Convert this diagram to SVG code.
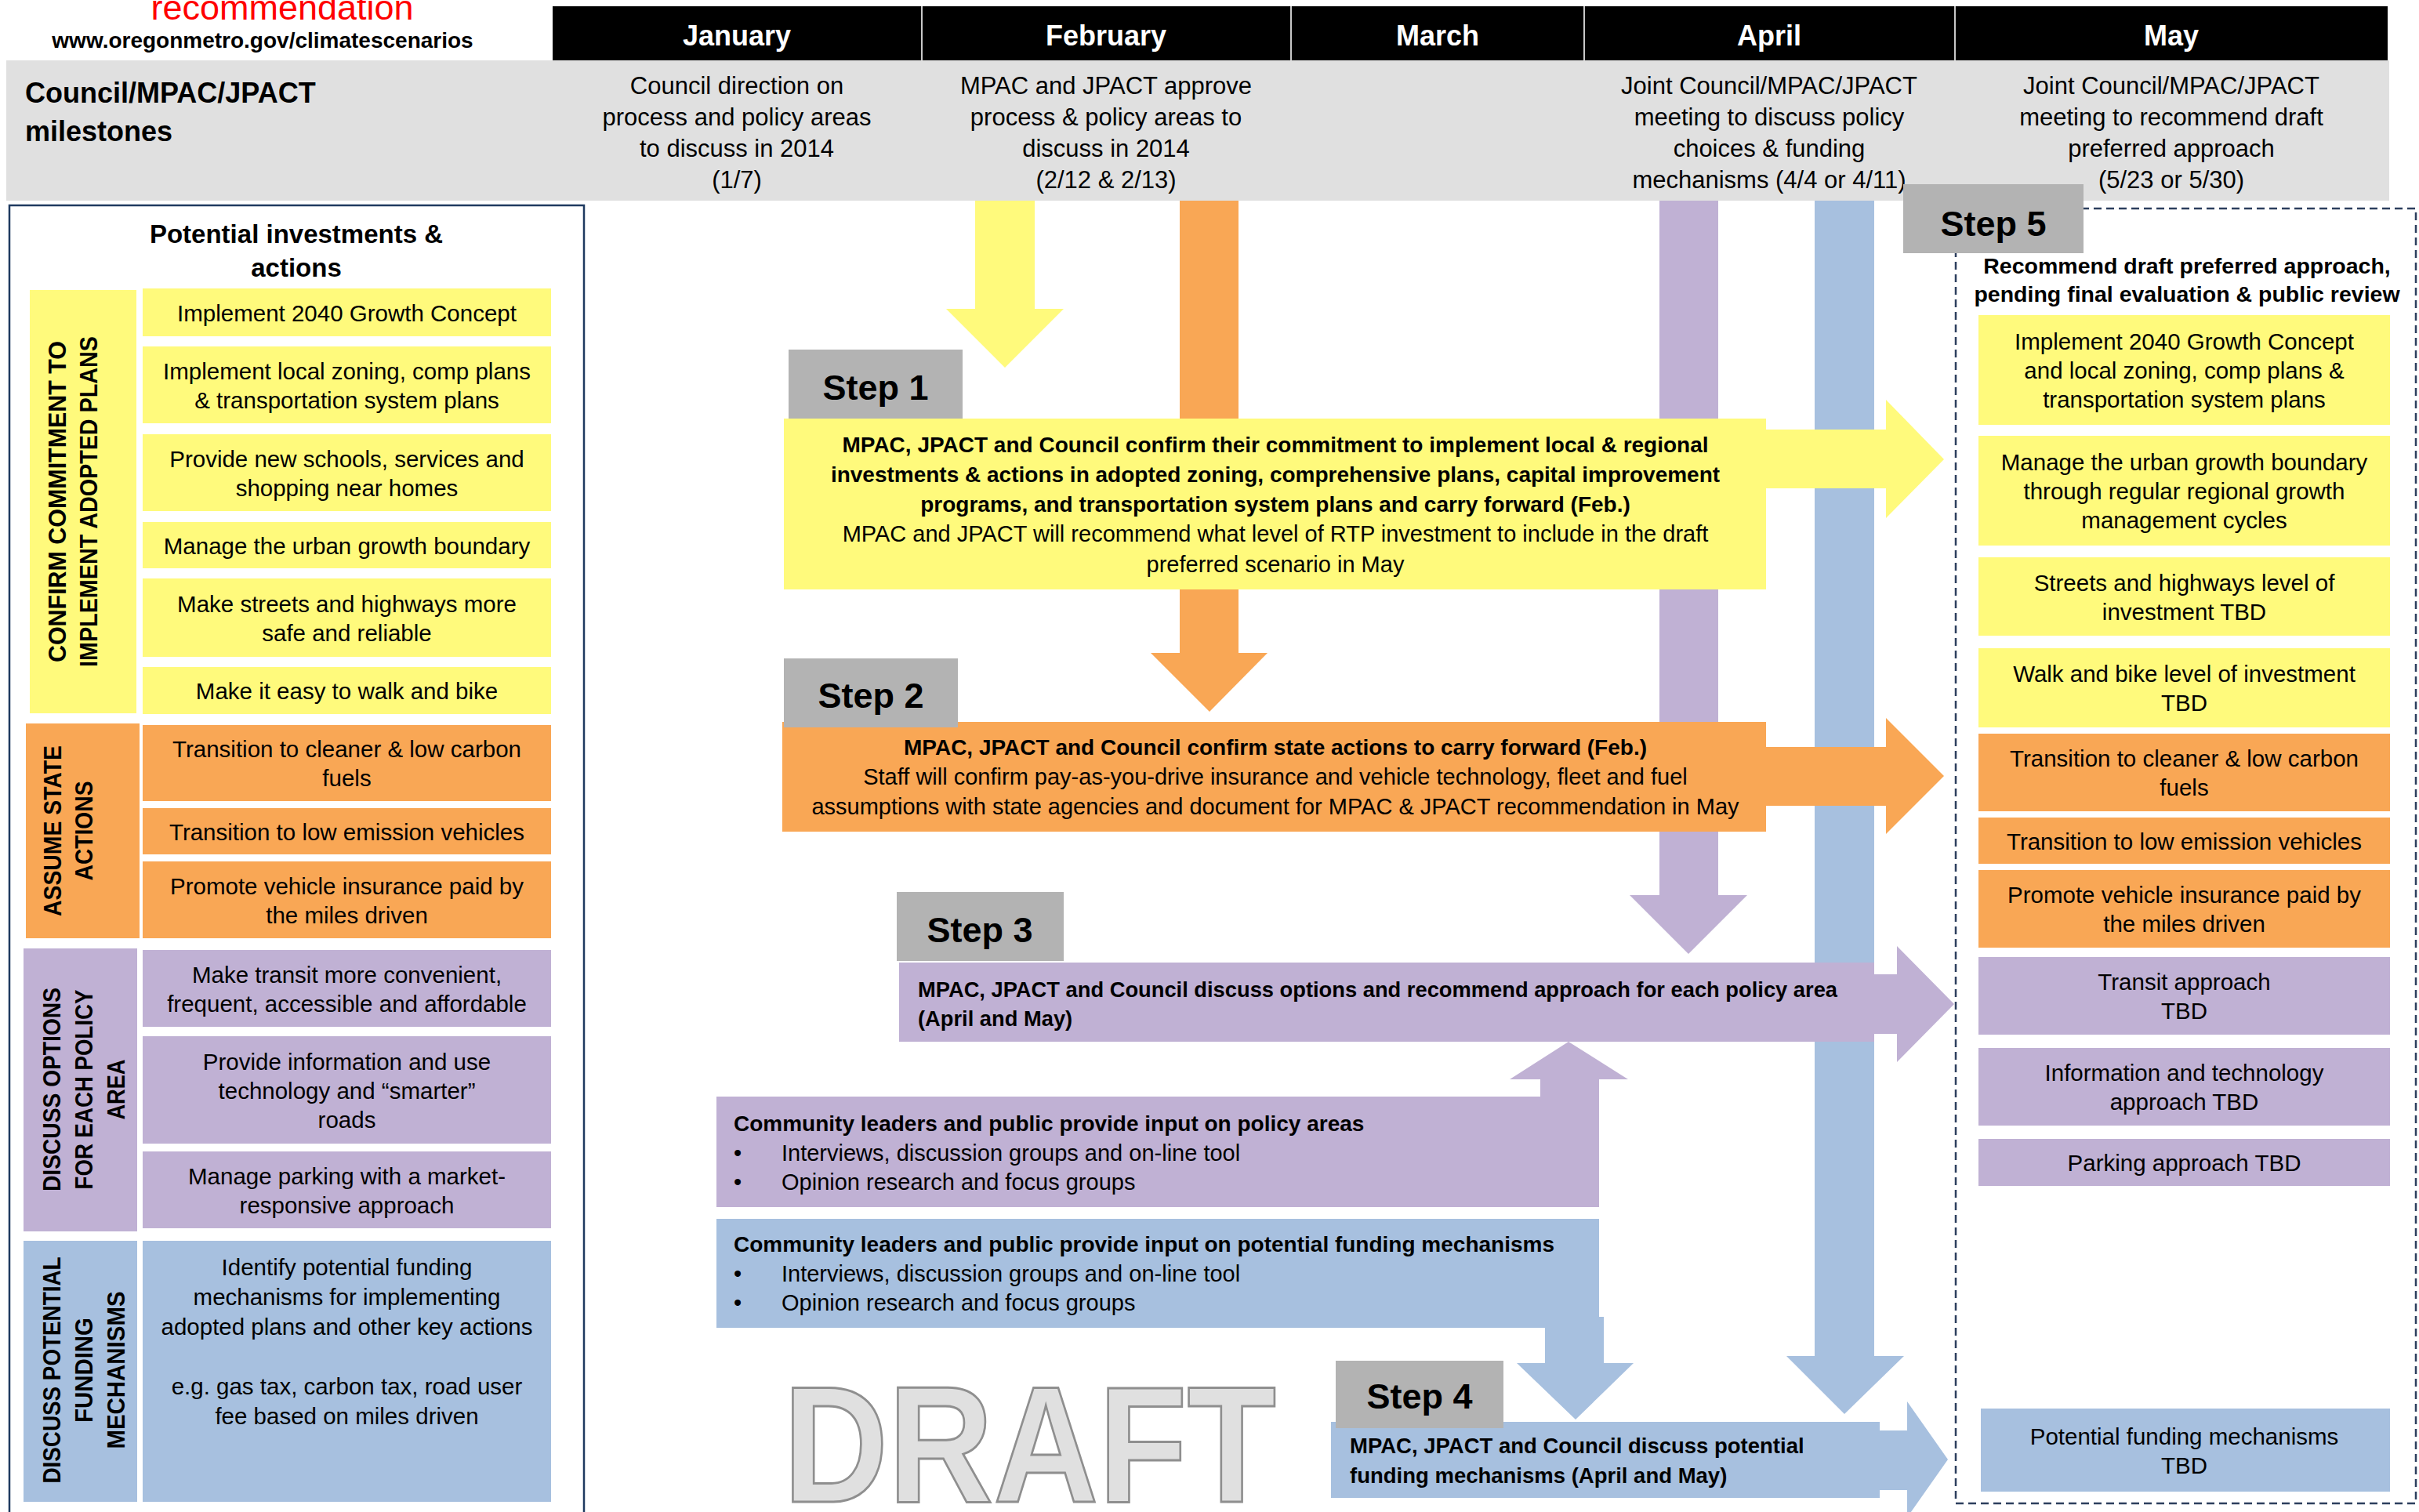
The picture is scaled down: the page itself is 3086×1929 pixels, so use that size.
<svg xmlns="http://www.w3.org/2000/svg" width="3086" height="1929" viewBox="0 0 3086 1929">
<style>
text{font-family:"Liberation Sans",Arial,sans-serif;fill:#000}
.mon{font-size:36px;font-weight:bold;fill:#fff;text-anchor:middle}
.ms{font-size:31px;text-anchor:middle}
.it{font-size:29.5px;text-anchor:middle}
.cat{font-size:31px;font-weight:bold;text-anchor:middle}
.st{font-size:45px;font-weight:bold;text-anchor:middle}
.sb{font-size:28px;font-weight:bold}
.sr{font-size:29px}
.hd{font-size:28.5px;font-weight:bold;text-anchor:middle}
.mid{text-anchor:middle}
.y{fill:#fffa7c}
.o{fill:#f9a755}
.p{fill:#c0b1d4}
.bl{fill:#a7c0df}
.g{fill:#b3b3b3}
.sep{stroke:#c8c8c8;stroke-width:2}
</style>
<rect x="0" y="0" width="3086" height="1929" fill="#fff"/>

<g id="title">
<text x="360" y="25" font-size="45" text-anchor="middle" style="fill:#ff0000">recommendation</text>
<text x="335" y="61" font-size="28" font-weight="bold" text-anchor="middle">www.oregonmetro.gov/climatescenarios</text>
</g>

<g id="months">
<rect x="705" y="8" width="2341" height="69" fill="#000"/>
<line class="sep" x1="1176" y1="8" x2="1176" y2="77"/>
<line class="sep" x1="1647" y1="8" x2="1647" y2="77"/>
<line class="sep" x1="2021" y1="8" x2="2021" y2="77"/>
<line class="sep" x1="2494" y1="8" x2="2494" y2="77"/>
<text class="mon" x="940" y="58">January</text>
<text class="mon" x="1411" y="58">February</text>
<text class="mon" x="1834" y="58">March</text>
<text class="mon" x="2257" y="58">April</text>
<text class="mon" x="2770" y="58">May</text>
</g>

<g id="milestones">
<rect x="8" y="77" width="3040" height="179" fill="#e0e0e0"/>
<text x="32" y="131" font-size="36" font-weight="bold">Council/MPAC/JPACT</text>
<text x="32" y="180" font-size="36" font-weight="bold">milestones</text>
<text class="ms"><tspan x="940" y="120">Council direction on</tspan><tspan x="940" y="160">process and policy areas</tspan><tspan x="940" y="200">to discuss in 2014</tspan><tspan x="940" y="240">(1/7)</tspan></text>
<text class="ms"><tspan x="1411" y="120">MPAC and JPACT approve</tspan><tspan x="1411" y="160">process &amp; policy areas to</tspan><tspan x="1411" y="200">discuss in 2014</tspan><tspan x="1411" y="240">(2/12 &amp; 2/13)</tspan></text>
<text class="ms"><tspan x="2257" y="120">Joint Council/MPAC/JPACT</tspan><tspan x="2257" y="160">meeting to discuss policy</tspan><tspan x="2257" y="200">choices &amp; funding</tspan><tspan x="2257" y="240">mechanisms (4/4 or 4/11)</tspan></text>
<text class="ms"><tspan x="2770" y="120">Joint Council/MPAC/JPACT</tspan><tspan x="2770" y="160">meeting to recommend draft</tspan><tspan x="2770" y="200">preferred approach</tspan><tspan x="2770" y="240">(5/23 or 5/30)</tspan></text>
</g>

<g id="left-panel">
<rect x="12" y="262" width="733" height="1700" fill="none" stroke="#1f3a60" stroke-width="2.5"/>
<text x="378" y="310" font-size="33" font-weight="bold" text-anchor="middle">Potential investments &amp;</text>
<text x="378" y="353" font-size="33" font-weight="bold" text-anchor="middle">actions</text>
</g>

<g id="cat-confirm">
<rect class="y" x="38" y="370" width="136" height="540"/>
<text class="cat" transform="translate(84,640) rotate(-90)" textLength="410" lengthAdjust="spacingAndGlyphs">CONFIRM COMMITMENT TO</text>
<text class="cat" transform="translate(124,640) rotate(-90)" textLength="422" lengthAdjust="spacingAndGlyphs">IMPLEMENT ADOPTED PLANS</text>
</g>
<g id="item-l1"><rect class="y" x="182" y="368" width="521" height="61"/><text class="it" x="442.5" y="409.5">Implement 2040 Growth Concept</text></g>
<g id="item-l2"><rect class="y" x="182" y="442" width="521" height="98"/><text class="it"><tspan x="442.5" y="483.5">Implement local zoning, comp plans</tspan><tspan x="442.5" y="520.5">&amp; transportation system plans</tspan></text></g>
<g id="item-l3"><rect class="y" x="182" y="554" width="521" height="98"/><text class="it"><tspan x="442.5" y="595.5">Provide new schools, services and</tspan><tspan x="442.5" y="632.5">shopping near homes</tspan></text></g>
<g id="item-l4"><rect class="y" x="182" y="666" width="521" height="59"/><text class="it" x="442.5" y="706.5">Manage the urban growth boundary</text></g>
<g id="item-l5"><rect class="y" x="182" y="738" width="521" height="100"/><text class="it"><tspan x="442.5" y="780.5">Make streets and highways more</tspan><tspan x="442.5" y="817.5">safe and reliable</tspan></text></g>
<g id="item-l6"><rect class="y" x="182" y="851" width="521" height="60"/><text class="it" x="442.5" y="892">Make it easy to walk and bike</text></g>

<g id="cat-state">
<rect class="o" x="33" y="923" width="145" height="274"/>
<text class="cat" transform="translate(78,1060) rotate(-90)" textLength="218" lengthAdjust="spacingAndGlyphs">ASSUME STATE</text>
<text class="cat" transform="translate(118,1060) rotate(-90)" textLength="127" lengthAdjust="spacingAndGlyphs">ACTIONS</text>
</g>
<g id="item-l7"><rect class="o" x="182" y="925" width="521" height="97"/><text class="it"><tspan x="442.5" y="966">Transition to cleaner &amp; low carbon</tspan><tspan x="442.5" y="1003">fuels</tspan></text></g>
<g id="item-l8"><rect class="o" x="182" y="1031" width="521" height="59"/><text class="it" x="442.5" y="1071.5">Transition to low emission vehicles</text></g>
<g id="item-l9"><rect class="o" x="182" y="1099" width="521" height="98"/><text class="it"><tspan x="442.5" y="1140.5">Promote vehicle insurance paid by</tspan><tspan x="442.5" y="1177.5">the miles driven</tspan></text></g>

<g id="cat-options">
<rect class="p" x="30" y="1210" width="145" height="361"/>
<text class="cat" transform="translate(77,1390) rotate(-90)" textLength="260" lengthAdjust="spacingAndGlyphs">DISCUSS OPTIONS</text>
<text class="cat" transform="translate(118,1390) rotate(-90)" textLength="255" lengthAdjust="spacingAndGlyphs">FOR EACH POLICY</text>
<text class="cat" transform="translate(159,1390) rotate(-90)" textLength="77" lengthAdjust="spacingAndGlyphs">AREA</text>
</g>
<g id="item-l10"><rect class="p" x="182" y="1212" width="521" height="98"/><text class="it"><tspan x="442.5" y="1253.5">Make transit more convenient,</tspan><tspan x="442.5" y="1290.5">frequent, accessible and affordable</tspan></text></g>
<g id="item-l11"><rect class="p" x="182" y="1322" width="521" height="137"/><text class="it"><tspan x="442.5" y="1364.5">Provide information and use</tspan><tspan x="442.5" y="1401.5">technology and “smarter”</tspan><tspan x="442.5" y="1438.5">roads</tspan></text></g>
<g id="item-l12"><rect class="p" x="182" y="1469" width="521" height="98"/><text class="it"><tspan x="442.5" y="1510.5">Manage parking with a market-</tspan><tspan x="442.5" y="1547.5">responsive approach</tspan></text></g>

<g id="cat-funding">
<rect class="bl" x="30" y="1583" width="145" height="333"/>
<text class="cat" transform="translate(77,1748) rotate(-90)" textLength="289" lengthAdjust="spacingAndGlyphs">DISCUSS POTENTIAL</text>
<text class="cat" transform="translate(118,1748) rotate(-90)" textLength="134" lengthAdjust="spacingAndGlyphs">FUNDING</text>
<text class="cat" transform="translate(159,1748) rotate(-90)" textLength="201" lengthAdjust="spacingAndGlyphs">MECHANISMS</text>
</g>
<g id="item-l13"><rect class="bl" x="182" y="1583" width="521" height="333"/><text class="it"><tspan x="442.5" y="1627">Identify potential funding</tspan><tspan x="442.5" y="1665">mechanisms for implementing</tspan><tspan x="442.5" y="1703">adopted plans and other key actions</tspan><tspan x="442.5" y="1779">e.g. gas tax, carbon tax, road user</tspan><tspan x="442.5" y="1817">fee based on miles driven</tspan></text></g>

<text x="999" y="1916" font-size="211" font-weight="bold" textLength="629" lengthAdjust="spacingAndGlyphs" style="fill:#e0e0e0;stroke:#8f8f8f;stroke-width:3">DRAFT</text>

<g id="connectors">
<polygon class="y" points="1244,256 1320,256 1320,394 1357,394 1282,469 1207,394 1244,394"/>
<polygon class="o" points="1505,256 1580,256 1580,833 1617,833 1543,908 1468,833 1505,833"/>
<polygon class="p" points="2117,256 2192,256 2192,1142 2229,1142 2154,1217 2079,1142 2117,1142"/>
<polygon class="bl" points="2315,256 2391,256 2391,1730 2429,1730 2353,1804 2279,1730 2315,1730"/>
<polygon class="y" points="2240,548 2406,548 2406,510 2480,586 2406,661 2406,623 2240,623"/>
<polygon class="o" points="2240,953 2406,953 2406,916 2480,990 2406,1064 2406,1028 2240,1028"/>
<polygon class="p" points="2380,1243 2420,1243 2420,1207 2493,1281 2420,1355 2420,1319 2380,1319"/>
<polygon class="bl" points="2390,1825 2433,1825 2433,1788 2485,1862 2433,1936 2433,1901 2390,1901"/>
<polygon class="p" points="1965,1410 1965,1377 1926,1377 2001,1329 2077,1377 2040,1377 2040,1410"/>
<polygon class="bl" points="1971,1680 2046,1680 2046,1739 2084,1739 2010,1811 1935,1739 1971,1739"/>
</g>

<g id="step1">
<rect class="y" x="1000" y="534" width="1253" height="218"/>
<text class="sb mid"><tspan x="1627" y="577">MPAC, JPACT and Council confirm their commitment to implement local &amp; regional</tspan><tspan x="1627" y="615">investments &amp; actions in adopted zoning, comprehensive plans, capital improvement</tspan><tspan x="1627" y="653">programs, and transportation system plans and carry forward (Feb.)</tspan></text>
<text class="sr mid"><tspan x="1627" y="691">MPAC and JPACT will recommend what level of RTP investment to include in the draft</tspan><tspan x="1627" y="730">preferred scenario in May</tspan></text>
<rect class="g" x="1006" y="446" width="222" height="88"/>
<text class="st" x="1117" y="510">Step 1</text>
</g>

<g id="step2">
<rect class="o" x="998" y="921" width="1255" height="140"/>
<text class="sb mid" x="1627" y="963">MPAC, JPACT and Council confirm state actions to carry forward (Feb.)</text>
<text class="sr mid"><tspan x="1627" y="1001">Staff will confirm pay-as-you-drive insurance and vehicle technology, fleet and fuel</tspan><tspan x="1627" y="1039">assumptions with state agencies and document for MPAC &amp; JPACT recommendation in May</tspan></text>
<rect class="g" x="1000" y="840" width="222" height="88"/>
<text class="st" x="1111" y="903">Step 2</text>
</g>

<g id="step3">
<rect class="p" x="1147" y="1228" width="1244" height="101"/>
<text class="sb" style="font-size:27.3px"><tspan x="1171" y="1272">MPAC, JPACT and Council discuss options and recommend approach for each policy area</tspan><tspan x="1171" y="1309">(April and May)</tspan></text>
<rect class="g" x="1144" y="1138" width="213" height="88"/>
<text class="st" x="1250" y="1202">Step 3</text>
</g>

<g id="input-policy">
<rect class="p" x="914" y="1399" width="1126" height="141"/>
<text class="sb" x="936" y="1443">Community leaders and public provide input on policy areas</text>
<text class="sr"><tspan x="936" y="1481">•</tspan><tspan x="997" y="1481">Interviews, discussion groups and on-line tool</tspan><tspan x="936" y="1518">•</tspan><tspan x="997" y="1518">Opinion research and focus groups</tspan></text>
</g>

<g id="input-funding">
<rect class="bl" x="914" y="1555" width="1126" height="139"/>
<text class="sb" x="936" y="1597">Community leaders and public provide input on potential funding mechanisms</text>
<text class="sr"><tspan x="936" y="1635">•</tspan><tspan x="997" y="1635">Interviews, discussion groups and on-line tool</tspan><tspan x="936" y="1672">•</tspan><tspan x="997" y="1672">Opinion research and focus groups</tspan></text>
</g>

<g id="step4">
<rect class="bl" x="1698" y="1814" width="700" height="97"/>
<text class="sb" style="font-size:27.5px"><tspan x="1722" y="1854">MPAC, JPACT and Council discuss potential</tspan><tspan x="1722" y="1892">funding mechanisms (April and May)</tspan></text>
<rect class="g" x="1704" y="1736" width="214" height="86"/>
<text class="st" x="1811" y="1797">Step 4</text>
</g>

<g id="step5">
<rect x="2495" y="266" width="587" height="1652" fill="none" stroke="#2d3f5e" stroke-width="2.5" stroke-dasharray="10 6"/>
<rect class="g" x="2428" y="235" width="230" height="88"/>
<text class="st" x="2543" y="301">Step 5</text>
<text class="hd" x="2790" y="349">Recommend draft preferred approach,</text>
<text class="hd" x="2790" y="385">pending final evaluation &amp; public review</text>
</g>
<g id="item-r1"><rect class="y" x="2524" y="402" width="525" height="140"/><text class="it"><tspan x="2786.5" y="446">Implement 2040 Growth Concept</tspan><tspan x="2786.5" y="483">and local zoning, comp plans &amp;</tspan><tspan x="2786.5" y="520">transportation system plans</tspan></text></g>
<g id="item-r2"><rect class="y" x="2524" y="556" width="525" height="140"/><text class="it"><tspan x="2786.5" y="600">Manage the urban growth boundary</tspan><tspan x="2786.5" y="637">through regular regional growth</tspan><tspan x="2786.5" y="674">management cycles</tspan></text></g>
<g id="item-r3"><rect class="y" x="2524" y="711" width="525" height="100"/><text class="it"><tspan x="2786.5" y="753.5">Streets and highways level of</tspan><tspan x="2786.5" y="790.5">investment TBD</tspan></text></g>
<g id="item-r4"><rect class="y" x="2524" y="827" width="525" height="101"/><text class="it"><tspan x="2786.5" y="870">Walk and bike level of investment</tspan><tspan x="2786.5" y="907">TBD</tspan></text></g>
<g id="item-r5"><rect class="o" x="2524" y="936" width="525" height="99"/><text class="it"><tspan x="2786.5" y="978">Transition to cleaner &amp; low carbon</tspan><tspan x="2786.5" y="1015">fuels</tspan></text></g>
<g id="item-r6"><rect class="o" x="2524" y="1043" width="525" height="59"/><text class="it" x="2786.5" y="1083.5">Transition to low emission vehicles</text></g>
<g id="item-r7"><rect class="o" x="2524" y="1110" width="525" height="99"/><text class="it"><tspan x="2786.5" y="1152">Promote vehicle insurance paid by</tspan><tspan x="2786.5" y="1189">the miles driven</tspan></text></g>
<g id="item-r8"><rect class="p" x="2524" y="1221" width="525" height="99"/><text class="it"><tspan x="2786.5" y="1263">Transit approach</tspan><tspan x="2786.5" y="1300">TBD</tspan></text></g>
<g id="item-r9"><rect class="p" x="2524" y="1337" width="525" height="99"/><text class="it"><tspan x="2786.5" y="1379">Information and technology</tspan><tspan x="2786.5" y="1416">approach TBD</tspan></text></g>
<g id="item-r10"><rect class="p" x="2524" y="1453" width="525" height="60"/><text class="it" x="2786.5" y="1494">Parking approach TBD</text></g>
<g id="item-r11"><rect class="bl" x="2527" y="1797" width="522" height="106"/><text class="it"><tspan x="2786.5" y="1842.5">Potential funding mechanisms</tspan><tspan x="2786.5" y="1879.5">TBD</tspan></text></g>
</svg>
